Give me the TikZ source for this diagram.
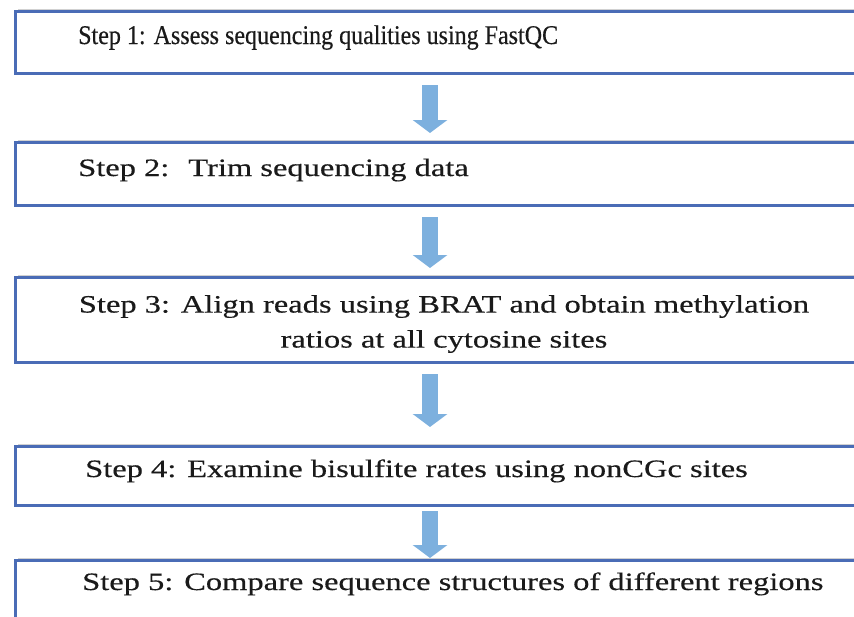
\documentclass[tikz,border=0pt]{standalone}
\usepackage{fontspec}
\setmainfont{Liberation Serif}
\newfontfamily\stepfont[FakeStretch=0.89,FakeBold=0.4]{Liberation Serif}
\newfontfamily\widestepfont[FakeStretch=1.3,FakeBold=0.4]{Liberation Serif}
\usetikzlibrary{arrows.meta}
\usetikzlibrary{calc}
\usetikzlibrary{shadows}
\definecolor{boxblue}{HTML}{4A6CB6}
\definecolor{arrowblue}{HTML}{7DB0DE}
\definecolor{inkgray}{HTML}{1A1A1A}
\tikzset{%
	stepbox/.style={rectangle,draw=boxblue,line width=3,fill=white,anchor=north west,minimum width=900,minimum height=#1,drop shadow={shadow xshift=2,shadow yshift=-3,opacity=0.3,fill=black!60}},
	steptext/.style={inner sep=0,text=inkgray,anchor=base west,font=\stepfont\fontsize{27}{35}\selectfont},
	widetext/.style={steptext,font=\widestepfont\fontsize{25}{35}\selectfont},
	flowarr/.style={draw=arrowblue,line width=16,-{Triangle[length=13pt,width=34pt]}},
}
\begin{document}
\begin{tikzpicture}[x=1pt,y=-1pt]
	\useasboundingbox (0,0) rectangle (854,616);
	\clip (0,0) rectangle (854,616);
	\node[stepbox=62] (box1) at (14,10) {};
	\node[stepbox=63] (box2) at (14,141) {};
	\node[stepbox=85] (box3) at (14,276) {};
	\node[stepbox=59] (box4) at (14,445) {};
	\node[stepbox=80] (box5) at (14,559) {};
	
	\coordinate (ax) at (430,0);
	\draw[flowarr] ($(box1.south -| ax)+(0,10)$) -- ($(box2.north -| ax)+(0,-8)$);
	\draw[flowarr] ($(box2.south -| ax)+(0,10)$) -- ($(box3.north -| ax)+(0,-8)$);
	\draw[flowarr] ($(box3.south -| ax)+(0,10)$) -- ($(box4.north -| ax)+(0,-18)$);
	\draw[flowarr] ($(box4.south -| ax)+(0,4)$) -- ($(box5.north -| ax)+(0,-1)$);
	
	\node[steptext] (step1) at ($(box1.north west)+(64,34)$) {Step 1: Assess sequencing qualities using FastQC};
	\node[widetext] (step2) at ($(box2.north west)+(64,35)$) {Step 2: \ Trim sequencing data};
	\node[widetext,anchor=north,align=center] (step3) at ($(box3.north west)+(430,19)$) {Step 3: Align reads using BRAT and obtain methylation\\ratios at all cytosine sites};
	\node[widetext] (step4) at ($(box4.north west)+(71,32)$) {Step 4: Examine bisulfite rates using nonCGc sites};
	\node[widetext] (step5) at ($(box5.north west)+(68,31)$) {Step 5: Compare sequence structures of different regions};
\end{tikzpicture}
\end{document}
